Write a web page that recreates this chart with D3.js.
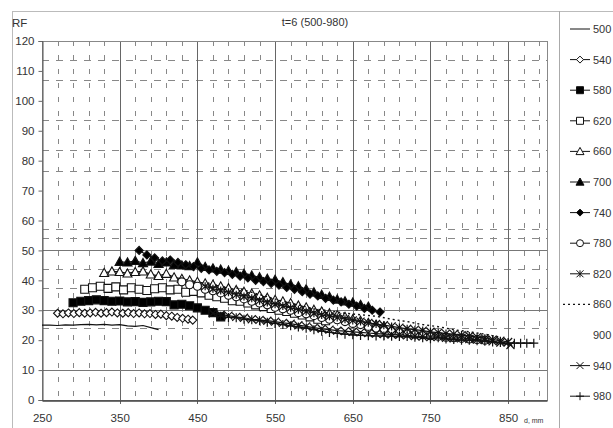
<!DOCTYPE html>
<html><head><meta charset="utf-8">
<script src="https://cdn.jsdelivr.net/npm/d3@7"></script>
<style>body{margin:0;background:#fff}svg{display:block}text{font-family:"Liberation Sans",Arial,sans-serif}</style>
</head><body><svg id="c" width="613" height="428"></svg>
<script>
// ---- data ----
const seriesNames = ["500","540","580","620","660","700","740","780","820","860","900","940","980"];
const xTicks = [250,350,450,550,650,750,850];
const yTicks = [0,10,20,30,40,50,60,70,80,90,100,110,120];
const ySolidGrid = [10,30,50];
const yDashGrid = [113.5,107,93.5,83.5,76.6,57.2,54.2,43.8,37.5,24];

const s500 = [[250,25.0],[260,25.0],[270,24.9],[280,25.1],[290,25.0],[300,25.2],[310,25.3],[320,25.1],[330,25.3],[340,25.0],[350,25.2],[360,24.8],[370,24.6],[380,24.9],[390,24.2],[400,23.5]];
const s540 = [[270,29.0],[277,28.8],[284,29.1],[291,28.9],[298,29.2],[305,29.0],[312,29.1],[319,29.3],[326,29.0],[333,29.2],[340,29.4],[347,29.1],[354,29.0],[361,29.2],[368,28.9],[375,29.1],[382,28.8],[389,28.9],[396,28.6],[403,28.7],[410,28.2],[417,28.0],[424,27.6],[431,27.3],[438,27.0],[444,26.7]];
const s580 = [[290,32.5],[300,33.0],[310,33.2],[320,33.5],[330,33.2],[340,33.0],[350,33.1],[360,32.8],[370,32.9],[380,32.6],[390,32.8],[400,33.0],[410,32.9],[420,31.8],[430,32.0],[440,31.5],[450,30.8],[460,30.0],[470,29.2],[480,27.8]];
const s620 = [[305,37.0],[315,37.5],[325,38.0],[335,37.3],[345,37.8],[355,36.8],[365,37.5],[375,37.0],[385,36.6],[395,37.2],[405,37.5],[415,36.8],[425,37.0],[435,36.0],[445,36.3],[455,35.8],[465,35.0],[475,34.5],[485,34.0],[495,33.2],[505,33.0],[515,32.4],[525,31.8],[535,31.2],[545,30.6],[555,30.0],[565,29.6],[575,29.0],[585,28.4],[595,27.8],[605,27.0],[615,26.5]];
const s660 = [[330,42.5],[340,43.0],[350,42.8],[360,42.3],[370,42.8],[380,43.0],[390,42.0],[400,41.5],[410,42.2],[420,41.0],[430,40.5],[440,40.0],[450,39.5],[460,39.0],[470,38.6],[480,38.0],[490,37.4],[500,36.8],[510,36.2],[520,35.6],[530,35.0],[540,34.2],[550,33.5],[560,33.0],[570,32.4],[580,31.6],[590,31.0],[600,30.2],[610,29.6],[620,29.0],[630,28.4],[640,27.8],[650,27.0],[660,26.5],[670,25.8],[680,25.2],[690,24.6]];
const s700 = [[350,46.2],[360,46.0],[370,46.5],[380,45.8],[390,46.3],[400,45.5],[410,46.0],[420,45.2],[430,45.0],[440,44.8],[450,46.0],[460,44.5],[470,44.0],[480,43.6],[490,43.2],[500,42.8],[510,42.2],[520,41.6],[530,41.0],[540,40.5],[550,40.2],[560,39.4],[570,38.6],[580,38.0],[590,37.0],[600,36.0],[610,35.2],[620,34.5],[630,33.6],[640,33.0],[650,32.6],[660,31.8],[670,31.2]];
const s740 = [[375,50.0],[385,48.5],[395,47.5],[405,46.5],[415,46.8],[425,46.0],[435,45.2],[445,44.6],[455,44.0],[465,43.5],[475,43.0],[485,42.6],[495,42.0],[505,41.4],[515,40.8],[525,40.0],[535,39.6],[545,39.0],[555,38.4],[565,37.6],[575,37.0],[585,36.2],[595,35.4],[605,34.8],[615,34.0],[625,33.4],[635,32.8],[645,32.0],[655,31.4],[665,30.6],[675,30.0],[685,29.4]];
const s780 = [[430,39.5],[440,38.5],[450,38.0],[460,37.0],[470,36.5],[480,35.8],[490,35.0],[500,34.5],[510,33.8],[520,33.0],[530,32.4],[540,31.8],[550,31.0],[560,30.5],[570,30.0],[580,29.2],[590,28.8],[600,28.2],[610,27.6],[620,27.0],[630,26.8],[640,26.2],[650,25.6],[660,25.2],[670,24.6],[680,24.0],[690,23.5],[700,23.0],[710,22.8],[720,22.4],[730,22.0],[740,21.8],[750,21.5],[760,21.3],[770,21.0],[780,20.8],[790,20.6],[800,20.4],[810,20.2],[820,20.0]];
const s820 = [[460,38.0],[470,37.2],[480,36.6],[490,36.0],[500,35.2],[510,34.6],[520,34.0],[530,33.2],[540,32.6],[550,32.0],[560,31.4],[570,30.8],[580,30.2],[590,29.6],[600,29.0],[610,28.4],[620,28.0],[630,27.6],[640,27.0],[650,26.6],[660,26.2],[670,25.8],[680,25.4],[690,25.0],[700,24.6],[710,24.2],[720,23.8],[730,23.5],[740,23.2],[750,22.8],[760,22.5],[770,22.2],[780,22.0],[790,21.7],[800,21.4],[810,21.0],[820,20.6],[830,20.2],[840,19.8],[850,19.4]];
const s860 = [[500,37.5],[520,36.0],[540,34.5],[560,33.0],[580,31.8],[600,30.5],[620,29.8],[640,29.0],[660,28.5],[680,28.0],[700,27.0],[720,26.2],[740,25.2],[760,24.5],[780,23.5],[800,22.8],[820,22.0],[840,21.0]];
const s900 = [[520,30.0],[600,27.0],[700,24.0],[800,21.0]];
const s940 = [[470,29.0],[480,28.5],[490,28.2],[500,27.8],[510,27.5],[520,27.0],[530,26.8],[540,26.5],[550,26.2],[560,25.8],[570,25.5],[580,25.0],[590,24.6],[600,24.2],[610,23.8],[620,23.5],[630,23.2],[640,23.0],[650,22.8],[660,22.6],[670,22.4],[680,22.2],[690,22.0],[700,21.9],[710,21.8],[720,21.6],[730,21.4],[740,21.2],[750,21.0],[760,21.2],[770,20.8],[780,20.6],[790,20.8],[800,20.4],[810,20.2],[820,20.0],[830,19.6],[840,19.2],[853,18.4]];
const s980 = [[480,28.0],[490,27.6],[500,27.5],[510,27.0],[520,26.8],[530,26.5],[540,26.0],[550,25.6],[560,25.2],[570,24.8],[580,24.4],[590,24.0],[600,23.5],[610,23.0],[620,22.6],[630,22.3],[640,22.0],[650,21.8],[660,21.6],[670,21.5],[680,21.4],[690,21.4],[700,21.3],[710,21.2],[720,21.2],[730,21.0],[740,20.8],[750,20.5],[760,20.8],[770,20.4],[780,20.2],[790,20.0],[800,20.0],[810,19.8],[820,19.6],[830,19.4],[840,19.2],[850,19.0],[858,19.0],[866,19.0],[874,19.0],[883,19.0]];
const seriesData = [s500,s540,s580,s620,s660,s700,s740,s780,s820,s860,s900,s940,s980];

// ---- styles ----
const styles = {
  "500":{line:"solid",marker:null},
  "540":{line:"solid",marker:"diamond",fill:"#fff"},
  "580":{line:"solid",marker:"square",fill:"#000"},
  "620":{line:"solid",marker:"square",fill:"#fff"},
  "660":{line:"solid",marker:"triangle",fill:"#fff"},
  "700":{line:"solid",marker:"triangle",fill:"#000"},
  "740":{line:"solid",marker:"diamond",fill:"#000"},
  "780":{line:"solid",marker:"circle",fill:"#fff"},
  "820":{line:"solid",marker:"asterisk"},
  "860":{line:"dotted",marker:null},
  "900":{line:"none",marker:null},
  "940":{line:"solid",marker:"x"},
  "980":{line:"solid",marker:"plus"}
};

const svg = d3.select("#c");
svg.append("rect").attr("width",613).attr("height",428).attr("fill","#fff");

const L=42,R=547,T=41,B=400;
const x = d3.scaleLinear().domain([250,900]).range([L,R]);
const y = d3.scaleLinear().domain([0,120]).range([B,T]);

// outer frame
svg.append("line").attr("x1",12).attr("x2",613).attr("y1",11.5).attr("y2",11.5).attr("stroke","#bbb");
svg.append("line").attr("x1",12.5).attr("x2",12.5).attr("y1",11).attr("y2",428).attr("stroke","#bbb");
svg.append("line").attr("x1",559.5).attr("x2",559.5).attr("y1",11).attr("y2",428).attr("stroke","#aaa");

// grid
const g = svg.append("g");
const minorX = d3.range(270,900,20).filter(v=>(v-350)%100!==0);
g.selectAll(".vd").data(minorX).join("line")
  .attr("x1",d=>Math.round(x(d))+0.5).attr("x2",d=>Math.round(x(d))+0.5).attr("y1",T).attr("y2",B)
  .attr("stroke","#888").attr("stroke-dasharray","5,9");
g.selectAll(".hd").data(yDashGrid).join("line")
  .attr("x1",L).attr("x2",R).attr("y1",d=>Math.round(y(d))+0.5).attr("y2",d=>Math.round(y(d))+0.5)
  .attr("stroke","#888").attr("stroke-dasharray","7,7");
g.selectAll(".vs").data(xTicks.slice(1)).join("line")
  .attr("x1",d=>Math.round(x(d))+0.5).attr("x2",d=>Math.round(x(d))+0.5).attr("y1",T).attr("y2",B+4)
  .attr("stroke","#666");
g.selectAll(".hs").data(ySolidGrid).join("line")
  .attr("x1",L).attr("x2",R).attr("y1",d=>Math.round(y(d))+0.5).attr("y2",d=>Math.round(y(d))+0.5)
  .attr("stroke","#777");
g.append("rect").attr("x",L+0.5).attr("y",T+0.5).attr("width",R-L).attr("height",B-T)
  .attr("fill","none").attr("stroke","#888");

// axes
const ya = svg.append("g").attr("transform",`translate(${L+0.5},0)`)
  .call(d3.axisLeft(y).tickValues(yTicks).tickSize(4).tickPadding(4));
ya.select(".domain").attr("stroke","#555");
ya.selectAll(".tick line").attr("stroke","#666");
ya.selectAll("text").attr("font-size",11.5).attr("fill","#333").style("font-family","'Liberation Sans',Arial,sans-serif");
const xa = svg.append("g").attr("transform",`translate(0,${B+0.5})`)
  .call(d3.axisBottom(x).tickValues(xTicks).tickSize(0).tickPadding(13));
xa.select(".domain").attr("stroke","#444").attr("stroke-width",1.5);
xa.selectAll("text").attr("font-size",11.5).attr("fill","#333").style("font-family","'Liberation Sans',Arial,sans-serif");

svg.append("text").attr("x",12).attr("y",27).attr("font-size",11.5).attr("fill","#333").text("RF");
svg.append("text").attr("x",315).attr("y",26).attr("text-anchor","middle").attr("font-size",11).attr("fill","#333").text("t=6 (500-980)");
svg.append("text").attr("x",524).attr("y",423).attr("font-size",7).attr("fill","#333").text("d, mm");

// markers
function markerPath(type, s){
  const h=s/2;
  switch(type){
    case "diamond": return `M0,${-h}L${h},0L0,${h}L${-h},0Z`;
    case "square": return `M${-h},${-h}H${h}V${h}H${-h}Z`;
    case "triangle": return `M0,${-h}L${h},${h*0.8}L${-h},${h*0.8}Z`;
    case "circle": return `M${h},0A${h},${h},0,1,1,${-h},0A${h},${h},0,1,1,${h},0Z`;
    case "x": return `M${-h},${-h}L${h},${h}M${-h},${h}L${h},${-h}`;
    case "plus": return `M${-h},0H${h}M0,${-h}V${h}`;
    case "asterisk": return `M${-h},${-h}L${h},${h}M${-h},${h}L${h},${-h}M0,${-h}V${h}`;
  }
  return "";
}
const msize = {diamond:8,square:8,triangle:9,circle:8,x:8,plus:9,asterisk:8};

const line = d3.line().x(d=>x(d[0])).y(d=>y(d[1])).curve(d3.curveLinear);
const plot = svg.append("g");
seriesNames.forEach((name,i)=>{
  const st = styles[name], data = seriesData[i];
  if(st.line!=="none"){
    plot.append("path").datum(data).attr("d",line).attr("fill","none")
      .attr("stroke","#111").attr("stroke-width",st.line==="dotted"?1.4:1.2)
      .attr("stroke-dasharray",st.line==="dotted"?"2,3":null);
  }
  if(st.marker){
    const open = st.fill==="#fff";
    plot.selectAll(null).data(data).join("path")
      .attr("transform",d=>`translate(${x(d[0])},${y(d[1])})`)
      .attr("d",markerPath(st.marker,msize[st.marker]))
      .attr("fill",st.fill||"none").attr("stroke","#111").attr("stroke-width",open?1.1:1.2);
  }
});

// legend
const lg = svg.append("g");
seriesNames.forEach((name,i)=>{
  const st = styles[name];
  const ly = 29 + i*30.6;
  if(st.line!=="none"){
    lg.append("line").attr("x1",st.line==="dotted"?563:570).attr("x2",590).attr("y1",ly).attr("y2",ly)
      .attr("stroke","#111").attr("stroke-width",st.line==="dotted"?1.3:1)
      .attr("stroke-dasharray",st.line==="dotted"?"2,3":null);
  }
  if(st.marker){
    lg.append("path").attr("transform",`translate(580,${ly})`).attr("d",markerPath(st.marker,msize[st.marker]-1))
      .attr("fill",st.fill||"none").attr("stroke","#111");
  }
  lg.append("text").attr("x",593).attr("y",ly+4).attr("font-size",11).attr("fill","#333").text(name);
});
</script></body></html>
